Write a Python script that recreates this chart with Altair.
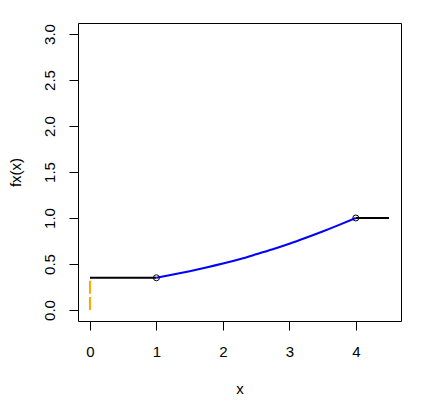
import altair as alt
import pandas as pd

# data
curve_x = [1.0, 1.25, 1.5, 1.75, 2.0, 2.25, 2.5, 2.75, 3.0, 3.25, 3.5, 3.75, 4.0]
curve_y = [0.35, 0.385, 0.422, 0.462, 0.505, 0.552, 0.605, 0.66, 0.72, 0.785, 0.853, 0.925, 1.0]
flat_x1 = [0.0, 4.0]
flat_x2 = [1.0, 4.5]
flat_y = [0.35, 1.0]
jump_x = [0.0]
jump_y1 = [0.0]
jump_y2 = [0.35]
pt_x = [1.0, 4.0]
pt_y = [0.35, 1.0]
x_ticks = [0, 1, 2, 3, 4]
y_ticks = [0.0, 0.5, 1.0, 1.5, 2.0, 2.5, 3.0]

font = "Liberation Sans"
fs = 15

xscale = alt.Scale(domain=[-0.18, 4.68], nice=False, zero=False)
yscale = alt.Scale(domain=[-0.12, 3.12], nice=False, zero=False)

xaxis = alt.Axis(values=x_ticks, title="x", format="d", grid=False, domain=False,
                 tickColor="black", tickSize=9, tickWidth=1, labelPadding=14,
                 labelFont=font, labelFontSize=fs, labelColor="black",
                 labelBaseline="top", labelAlign="center",
                 titleFont=font, titleFontSize=fs, titleFontWeight="normal",
                 titleColor="black", titleBaseline="alphabetic", titleY=72)
yaxis = alt.Axis(values=y_ticks, title="fx(x)", format=".1f", grid=False, domain=False,
                 tickColor="black", tickSize=9, tickWidth=1, labelPadding=15,
                 labelFont=font, labelFontSize=fs, labelColor="black",
                 labelAngle=270, labelAlign="center", labelBaseline="alphabetic",
                 titleFont=font, titleFontSize=fs, titleFontWeight="normal",
                 titleColor="black", titleAngle=270, titleAlign="center",
                 titleBaseline="alphabetic", titleX=-58, titleY=149)

curve = pd.DataFrame({"x": curve_x, "y": curve_y})
flat = pd.DataFrame({"x": flat_x1, "x2": flat_x2, "y": flat_y})
jump = pd.DataFrame({"x": jump_x, "y": jump_y1, "y2": jump_y2})
pts = pd.DataFrame({"x": pt_x, "y": pt_y})

base_axes = alt.Chart(curve).mark_point(opacity=0).encode(
    x=alt.X("x:Q", scale=xscale, axis=xaxis),
    y=alt.Y("y:Q", scale=yscale, axis=yaxis),
)

jump_layer = alt.Chart(jump).mark_rule(color="#FFA500", strokeWidth=2, strokeDash=[13, 3.3]).encode(
    x=alt.X("x:Q", scale=xscale), y=alt.Y("y:Q", scale=yscale), y2="y2:Q"
)
flat_layer = alt.Chart(flat).mark_rule(color="black", strokeWidth=2).encode(
    x=alt.X("x:Q", scale=xscale), x2="x2:Q", y=alt.Y("y:Q", scale=yscale)
)
curve_layer = alt.Chart(curve).mark_line(color="#0000FF", strokeWidth=2, interpolate="monotone").encode(
    x=alt.X("x:Q", scale=xscale), y=alt.Y("y:Q", scale=yscale)
)
pt_layer = alt.Chart(pts).mark_point(shape="circle", filled=False, color="black", strokeWidth=1, size=36, opacity=1).encode(
    x=alt.X("x:Q", scale=xscale), y=alt.Y("y:Q", scale=yscale)
)

chart = alt.layer(base_axes, jump_layer, flat_layer, curve_layer, pt_layer).properties(
    width=323, height=298,
    autosize=alt.AutoSizeParams(type="none"),
    padding={"left": 70, "top": 15, "right": 25, "bottom": 78},
    background="white",
).configure_view(stroke="black", strokeWidth=1)

chart.save("out.html", embed_options={"renderer": "svg", "actions": False})
